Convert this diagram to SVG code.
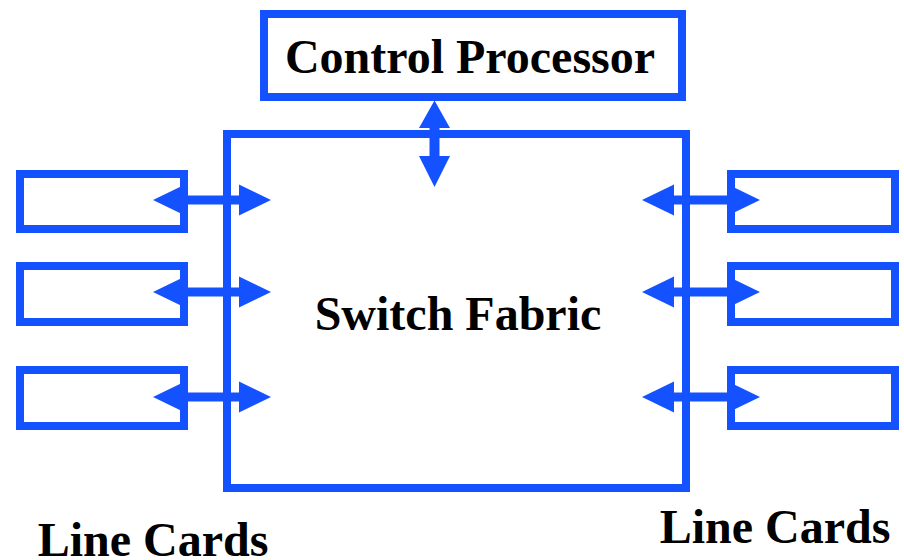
<svg xmlns="http://www.w3.org/2000/svg" xmlns:xlink="http://www.w3.org/1999/xlink" width="904" height="560" viewBox="0 0 904 560">
<style>
.box{fill:none;stroke:#1552FF;stroke-width:8}
.arr{fill:#1552FF;stroke:none}
.lbl{font-family:"Liberation Serif","Times New Roman",serif;font-weight:bold;font-size:48px;fill:#000;text-anchor:middle}
</style>
<defs>
<path id="harrow" d="M0,0 L32,-15.5 L32,-4.5 L86,-4.5 L86,-15.5 L118,0 L86,15.5 L86,4.5 L32,4.5 L32,15.5 Z"/>
</defs>
<rect width="904" height="560" fill="#fff"/>
<g id="control-processor">
<rect class="box" x="264" y="14" width="418" height="83"/>
<text class="lbl" x="470" y="73">Control Processor</text>
</g>
<g id="switch-fabric">
<rect class="box" x="227" y="134" width="459" height="354"/>
<text class="lbl" x="458" y="330">Switch Fabric</text>
</g>
<g id="line-card-l1"><rect class="box" x="20" y="174" width="164" height="55"/></g>
<g id="line-card-l2"><rect class="box" x="20" y="266" width="164" height="56"/></g>
<g id="line-card-l3"><rect class="box" x="20" y="370" width="164" height="56"/></g>
<g id="line-card-r1"><rect class="box" x="731" y="174" width="164" height="55"/></g>
<g id="line-card-r2"><rect class="box" x="731" y="266" width="164" height="56"/></g>
<g id="line-card-r3"><rect class="box" x="731" y="370" width="164" height="56"/></g>
<g id="label-left"><text class="lbl" x="153" y="556">Line Cards</text></g>
<g id="label-right"><text class="lbl" x="775" y="543">Line Cards</text></g>
<g id="connectors" class="arr">
<use xlink:href="#harrow" transform="translate(153,200)"/>
<use xlink:href="#harrow" transform="translate(153,292)"/>
<use xlink:href="#harrow" transform="translate(153,397)"/>
<use xlink:href="#harrow" transform="translate(642,200)"/>
<use xlink:href="#harrow" transform="translate(642,292)"/>
<use xlink:href="#harrow" transform="translate(642,397)"/>
<path d="M434.5,100.5 L450,128 L439.5,128 L439.5,156 L450,156 L434.5,187 L419,156 L429.5,156 L429.5,128 L419,128 Z"/>
</g>
</svg>
